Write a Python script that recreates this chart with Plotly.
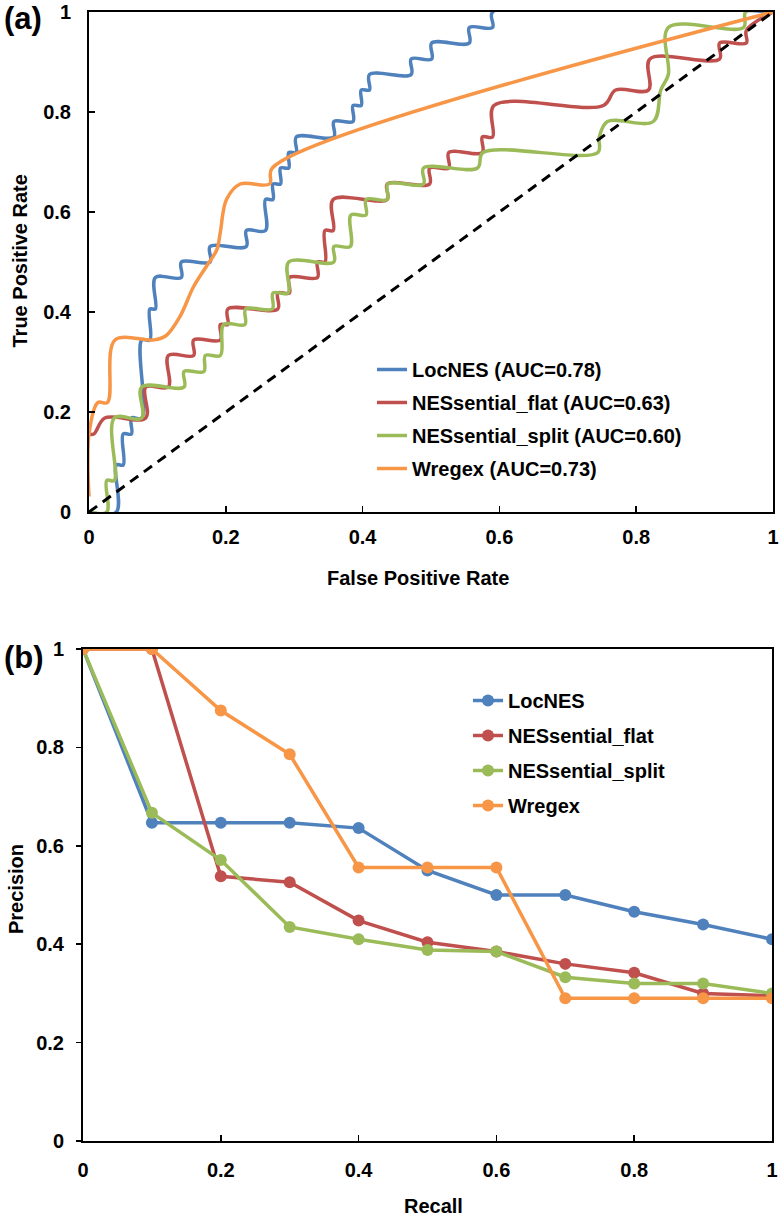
import plotly.graph_objects as go

W, H = 783, 1219

# ---------------- (a) ROC data ----------------
roc_names = ["LocNES (AUC=0.78)", "NESsential_flat (AUC=0.63)",
             "NESsential_split (AUC=0.60)", "Wregex (AUC=0.73)"]

locnes_fpr = [0.0, 0.040, 0.040, 0.050, 0.050, 0.062, 0.062, 0.077, 0.077, 0.089, 0.089,
              0.097, 0.097, 0.135, 0.135, 0.177, 0.177, 0.230, 0.230, 0.258, 0.258,
              0.269, 0.269, 0.280, 0.280, 0.292, 0.292, 0.303, 0.303, 0.358, 0.358,
              0.386, 0.386, 0.398, 0.398, 0.410, 0.410, 0.471, 0.471, 0.501, 0.501,
              0.556, 0.556, 0.590, 0.590, 1.0]
locnes_tpr = [0.0, 0.0, 0.094, 0.094, 0.156, 0.156, 0.188, 0.188, 0.344, 0.344, 0.406,
              0.406, 0.469, 0.469, 0.500, 0.500, 0.531, 0.531, 0.563, 0.563, 0.625,
              0.625, 0.656, 0.656, 0.688, 0.688, 0.719, 0.719, 0.750, 0.750, 0.781,
              0.781, 0.813, 0.813, 0.844, 0.844, 0.875, 0.875, 0.906, 0.906, 0.938,
              0.938, 0.969, 0.969, 1.0, 1.0]

flat_fpr = [0.0, 0.007, 0.023, 0.083, 0.083, 0.116, 0.116, 0.153, 0.153, 0.192, 0.192,
            0.203, 0.203, 0.276, 0.276, 0.293, 0.293, 0.334, 0.334, 0.345, 0.345,
            0.357, 0.357, 0.436, 0.436, 0.498, 0.498, 0.526, 0.526, 0.575, 0.575,
            0.590, 0.592, 0.752, 0.770, 0.818, 0.820, 0.922, 0.922, 0.961, 0.961, 1.0]
flat_tpr = [0.156, 0.156, 0.188, 0.188, 0.250, 0.250, 0.313, 0.313, 0.344, 0.344, 0.375,
            0.375, 0.406, 0.406, 0.438, 0.438, 0.469, 0.469, 0.500, 0.500, 0.563,
            0.563, 0.625, 0.625, 0.656, 0.656, 0.688, 0.688, 0.719, 0.719, 0.750,
            0.750, 0.813, 0.813, 0.844, 0.844, 0.906, 0.906, 0.938, 0.938, 0.963, 1.0]

split_fpr = [0.0, 0.026, 0.026, 0.037, 0.037, 0.077, 0.077, 0.139, 0.139, 0.168, 0.170,
             0.192, 0.197, 0.228, 0.229, 0.268, 0.269, 0.291, 0.292, 0.358, 0.358,
             0.382, 0.383, 0.405, 0.405, 0.436, 0.437, 0.489, 0.489, 0.568, 0.576,
             0.744, 0.746, 0.758, 0.825, 0.836, 0.847, 0.847, 0.957, 0.960, 1.0]
split_tpr = [0.0, 0.0, 0.063, 0.063, 0.188, 0.188, 0.250, 0.250, 0.281, 0.281, 0.313,
             0.313, 0.375, 0.375, 0.406, 0.406, 0.438, 0.438, 0.500, 0.500, 0.531,
             0.531, 0.594, 0.594, 0.625, 0.625, 0.656, 0.656, 0.688, 0.688, 0.719,
             0.719, 0.750, 0.781, 0.781, 0.844, 0.875, 0.969, 0.969, 1.0, 1.0]

wregex_fpr = [0.0, 0.0, 0.013, 0.027, 0.038, 0.094, 0.112, 0.133, 0.153, 0.172, 0.187,
              0.192, 0.201, 0.221, 0.264, 0.268, 1.0]
wregex_tpr = [0.031, 0.156, 0.219, 0.219, 0.344, 0.344, 0.352, 0.391, 0.451, 0.492, 0.525,
              0.560, 0.625, 0.656, 0.656, 0.688, 1.0]

diag_x = [0.0, 1.0]
diag_y = [0.0, 1.0]

# ---------------- (b) Precision-Recall data ----------------
pr_names = ["LocNES", "NESsential_flat", "NESsential_split", "Wregex"]
recall = [0.0, 0.1, 0.2, 0.3, 0.4, 0.5, 0.6, 0.7, 0.8, 0.9, 1.0]
locnes_prec = [1.0, 0.647, 0.647, 0.647, 0.636, 0.550, 0.500, 0.500, 0.466, 0.440, 0.410]
flat_prec = [1.0, 1.0, 0.538, 0.526, 0.448, 0.404, 0.385, 0.360, 0.342, 0.300, 0.295]
split_prec = [1.0, 0.667, 0.571, 0.435, 0.410, 0.388, 0.385, 0.333, 0.320, 0.320, 0.300]
wregex_prec = [1.0, 1.0, 0.875, 0.786, 0.556, 0.556, 0.556, 0.290, 0.290, 0.290, 0.290]

tick_vals = [0, 0.2, 0.4, 0.6, 0.8, 1]
tick_text = ["0", "0.2", "0.4", "0.6", "0.8", "1"]

colors = ["#4F81BD", "#C0504D", "#9BBB59", "#F79646"]
FONT = "Liberation Sans, Arial, Helvetica, sans-serif"


def px(x):
    return x / W


def py(y):
    return 1 - y / H


fig = go.Figure()

roc_x = [locnes_fpr, flat_fpr, split_fpr, wregex_fpr]
roc_y = [locnes_tpr, flat_tpr, split_tpr, wregex_tpr]
for i in range(4):
    fig.add_trace(go.Scatter(
        x=roc_x[i], y=roc_y[i], mode="lines", name=roc_names[i],
        line=dict(color=colors[i], width=3.5, shape="spline", smoothing=1.0),
        xaxis="x", yaxis="y", legend="legend", legendgroup="a%d" % i,
    ))
fig.add_trace(go.Scatter(
    x=diag_x, y=diag_y, mode="lines", showlegend=False,
    line=dict(color="black", width=3, dash="10px,7px"),
    xaxis="x", yaxis="y",
))

pr_y = [locnes_prec, flat_prec, split_prec, wregex_prec]
for i in range(4):
    fig.add_trace(go.Scatter(
        x=recall, y=pr_y[i], mode="lines+markers", name=pr_names[i],
        line=dict(color=colors[i], width=3.5),
        marker=dict(color=colors[i], size=12),
        xaxis="x2", yaxis="y2", legend="legend2", legendgroup="b%d" % i,
    ))

axis_common = dict(
    range=[0, 1], tickvals=tick_vals, ticktext=tick_text,
    showgrid=False, zeroline=False, showline=True, linecolor="black",
    linewidth=2, mirror=True, tickcolor="black", tickwidth=1.5, ticklen=6,
    tickfont=dict(family=FONT, size=20, color="black", weight="bold"),
    automargin=False, fixedrange=True,
)

fig.update_layout(
    width=W, height=H,
    margin=dict(l=0, r=0, t=0, b=0),
    paper_bgcolor="white", plot_bgcolor="white",
    showlegend=True,
    xaxis=dict(axis_common, domain=[px(89), px(773)], anchor="y",
               ticks="inside", ticklabelstandoff=6),
    yaxis=dict(axis_common, domain=[py(512), py(12)], anchor="x",
               ticks="inside", ticklabelstandoff=12),
    xaxis2=dict(axis_common, domain=[px(83), px(772)], anchor="y2",
                ticks="inside", ticklabelstandoff=10),
    yaxis2=dict(axis_common, domain=[py(1141), py(649)], anchor="x2",
                ticks="outside", ticklen=5, ticklabelstandoff=8),
    legend=dict(x=px(372), y=py(350), xanchor="left", yanchor="top",
                bgcolor="rgba(0,0,0,0)", tracegroupgap=4,
                font=dict(family=FONT, size=20, color="black", weight="bold")),
    legend2=dict(x=px(468), y=py(681), xanchor="left", yanchor="top",
                 bgcolor="rgba(0,0,0,0)", tracegroupgap=6,
                 font=dict(family=FONT, size=20, color="black", weight="bold")),
)

ann_font = dict(family=FONT, size=20, color="black", weight="bold")
fig.add_annotation(text="False Positive Rate", x=px(418), y=py(578), xref="paper", yref="paper",
                   showarrow=False, xanchor="center", yanchor="middle", font=ann_font)
fig.add_annotation(text="True Positive Rate", x=px(19.5), y=py(261), xref="paper", yref="paper",
                   showarrow=False, xanchor="center", yanchor="middle", textangle=-90, font=ann_font)
fig.add_annotation(text="Recall", x=px(433), y=py(1206), xref="paper", yref="paper",
                   showarrow=False, xanchor="center", yanchor="middle", font=ann_font)
fig.add_annotation(text="Precision", x=px(16), y=py(889), xref="paper", yref="paper",
                   showarrow=False, xanchor="center", yanchor="middle", textangle=-90, font=ann_font)
fig.add_annotation(text="(a)", x=px(2), y=py(19), xref="paper", yref="paper",
                   showarrow=False, xanchor="left", yanchor="middle",
                   font=dict(family=FONT, size=31, color="black", weight="bold"))
fig.add_annotation(text="(b)", x=px(2), y=py(657), xref="paper", yref="paper",
                   showarrow=False, xanchor="left", yanchor="middle",
                   font=dict(family=FONT, size=31, color="black", weight="bold"))

fig.write_html(
    "out.html",
    config={"displayModeBar": False, "staticPlot": True},
    post_script="document.body.style.margin='0px';document.body.style.overflow='hidden';"
                "document.documentElement.style.overflow='hidden';",
)
